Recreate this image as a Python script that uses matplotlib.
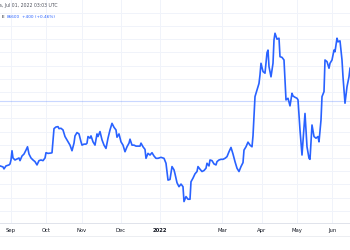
import matplotlib.pyplot as plt
from matplotlib.lines import Line2D

# trading-day position of each reading and the price
days = [0, 3, 4, 6, 9, 10, 11, 12, 13, 15, 17, 19, 20, 22, 24, 26, 27.5, 29, 31, 33,
        35, 37, 39, 41, 43, 45, 46, 48, 51, 52, 54, 56, 58, 59, 61, 63, 65, 68, 70, 72,
        74, 75, 77, 79, 81, 82, 84, 86, 87, 88, 90, 91, 93, 95, 97, 98, 100, 102, 104, 106,
        108, 110, 112, 114, 116, 117, 119, 121, 123, 125, 127, 129, 130, 132, 134, 136, 138, 140, 141, 143,
        145, 146, 148, 150, 152, 154, 156, 158, 161, 164, 166, 168, 170, 172, 174, 175, 177, 179, 181, 183,
        184, 186, 188, 190, 191, 193, 195, 197, 198, 200, 202, 204, 206, 207, 209, 210, 212, 214, 216, 217,
        219, 221, 223, 225, 227, 229, 231, 233, 235, 237, 239, 241, 243, 244, 246, 248, 250, 252, 253, 255,
        257, 259, 260, 261, 263, 265, 267, 268, 269, 271, 273, 274, 275, 277, 279, 280, 282, 284, 286, 288,
        290, 292, 293, 295, 297, 298, 300, 302, 304, 305, 307, 309, 310, 312, 314, 316, 318, 319, 321, 322,
        324, 325, 327, 329, 330, 332, 334, 335, 337, 338, 340, 342, 343, 345, 347, 349, 350]
prices = [76800, 76650, 76350, 76800, 76950, 77100, 77700, 79100, 78000, 77700, 77850, 78000, 77600, 78300, 78600, 79200, 79700, 78600, 78000, 77700,
          77450, 76950, 77600, 77700, 77600, 78000, 78800, 78700, 78750, 78800, 82450, 82700, 82750, 82450, 82500, 82250, 81250, 80450, 79950, 79100,
          80250, 81350, 81850, 81650, 80450, 79950, 80100, 80100, 80250, 81250, 81000, 81350, 80450, 79950, 81650, 81250, 82000, 80750, 79950, 79450,
          81000, 82250, 83250, 82650, 82250, 81150, 81650, 80450, 79950, 78950, 79700, 80250, 80850, 79950, 79950, 79800, 79800, 79800, 80250, 79700,
          79300, 77950, 78700, 78450, 78800, 78300, 77950, 77950, 78100, 77950, 77200, 74650, 74750, 76700, 76200, 75600, 74250, 73650, 74050, 73650,
          71400, 72150, 71750, 71750, 74400, 74950, 75600, 75950, 76700, 76300, 75950, 76100, 76450, 77200, 76800, 77700, 77600, 77100, 76950, 77450,
          77700, 77800, 77800, 77950, 78200, 78950, 79600, 78600, 77450, 76450, 75950, 76700, 77300, 79200, 79700, 80400, 79950, 79700, 81350, 87300,
          88300, 89300, 90600, 92350, 91100, 90850, 93950, 94350, 91850, 90300, 92350, 95900, 96900, 96000, 96150, 93350, 93250, 92850, 86800, 87050,
          85900, 87800, 87400, 87200, 87050, 86800, 82250, 78450, 82750, 84750, 79700, 77950, 77800, 83000, 81250, 81000, 81250, 80450, 83750, 87300,
          88050, 92850, 92600, 91600, 92350, 92850, 94350, 94100, 96150, 95600, 95750, 92850, 90300, 86300, 88800, 90300, 91600]

month_pos = [11, 46, 82, 121, 160, 222, 262, 297, 332]
month_labels = ['Sep', 'Oct', 'Nov', 'Dec', '2022', 'Mar', 'Apr', 'May', 'Jun']
price_grid = list(range(70000, 102000, 2000))
last_price = 86600
header = 'a, Jul 01, 2022 03:03 UTC'
legend_parts = ['E', '86600', '+400 (+0.46%)']

blue = '#2962ff'
grid_col = '#f0f3fa'
text_col = '#131722'

fig = plt.figure(figsize=(3.5, 2.5), dpi=100)
ax = fig.add_axes([0, 27 / 250, 1, 223 / 250])

ax.set_xlim(0, 350)
ax.set_ylim(68150, 101940)
ax.set_yticks(price_grid)
ax.set_xticks(month_pos)
ax.set_xticklabels(month_labels)
ax.grid(True, color=grid_col, lw=0.7)
ax.set_axisbelow(True)
ax.tick_params(axis='y', left=False, labelleft=False)
ax.tick_params(axis='x', length=0, pad=3.3, labelsize=3.8, colors=text_col)
for lab in ax.get_xticklabels():
    if lab.get_text() == '2022':
        lab.set_fontweight('bold')
for side in ['top', 'left', 'right']:
    ax.spines[side].set_visible(False)
ax.spines['bottom'].set_color('#e0e3eb')
ax.spines['bottom'].set_linewidth(0.7)

ax.axhline(last_price, color=blue, alpha=0.25, lw=0.8)
ax.plot(days, prices, color=blue, lw=1.2, solid_joinstyle='round')

fig.add_artist(Line2D([0, 1], [14 / 250, 14 / 250], transform=fig.transFigure,
                      color='#eceef2', lw=0.7))

fig.text(-0.003, 1 - 6 / 250, header, fontsize=3.3, color='#50535e', va='center')
fig.text(0.004, 1 - 17 / 250, legend_parts[0], fontsize=3.1, color=text_col, va='center')
fig.text(0.018, 1 - 17 / 250, legend_parts[1], fontsize=3.1, color=blue, va='center')
fig.text(0.064, 1 - 17 / 250, legend_parts[2], fontsize=3.1, color=blue, va='center')

fig.savefig('out.png', dpi=100)
